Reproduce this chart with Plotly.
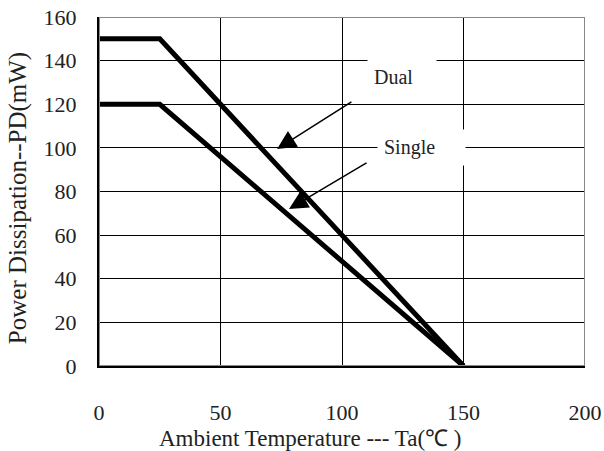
import plotly.graph_objects as go

# Data
temp_dual = [0, 25, 150]
pd_dual = [150, 150, 0]
temp_single = [0, 25, 150]
pd_single = [120, 120, 0]
x_ticks = [0, 50, 100, 150, 200]
y_ticks = [0, 20, 40, 60, 80, 100, 120, 140, 160]

FONT = "Liberation Serif"

fig = go.Figure()
fig.add_trace(go.Scatter(x=temp_dual, y=pd_dual, mode="lines",
                         line=dict(color="black", width=5), name="Dual",
                         showlegend=False))
fig.add_trace(go.Scatter(x=temp_single, y=pd_single, mode="lines",
                         line=dict(color="black", width=5), name="Single",
                         showlegend=False))

# gray frame top/right
fig.add_shape(type="rect", xref="x", yref="y", x0=0, x1=200, y0=0, y1=160,
              line=dict(color="#888888", width=2), layer="above")

# Arrows
fig.add_annotation(x=73.3, y=99.5, ax=104.5, ay=121.5, axref="x", ayref="y",
                   xref="x", yref="y", text="", showarrow=True,
                   arrowhead=2, arrowsize=2.5, arrowwidth=1.5, arrowcolor="black")
fig.add_annotation(x=78.2, y=72, ax=110.7, ay=93.5, axref="x", ayref="y",
                   xref="x", yref="y", text="", showarrow=True,
                   arrowhead=2, arrowsize=2.5, arrowwidth=1.5, arrowcolor="black")
# Labels
fig.add_annotation(x=124.7, y=132.5, xref="x", yref="y", text="Dual", showarrow=False,
                   width=56, align="left", bgcolor="white", borderpad=6,
                   font=dict(family=FONT, size=20, color="#222"))
fig.add_annotation(x=132.7, y=100.4, xref="x", yref="y", text="Single", showarrow=False,
                   width=75, align="left", bgcolor="white", borderpad=6,
                   font=dict(family=FONT, size=20, color="#222"))

# Axis titles
fig.add_annotation(x=0.434, y=0, xref="paper", yref="paper", yanchor="middle",
                   yshift=-72, showarrow=False,
                   text="Ambient Temperature --- Ta(℃ )",
                   font=dict(family=FONT, size=23, color="#222"))
fig.add_annotation(x=0, y=0.481, xref="paper", yref="paper", xanchor="center",
                   xshift=-81, showarrow=False, textangle=-90,
                   text="Power Dissipation--PD(mW)",
                   font=dict(family=FONT, size=25, color="#222"))

fig.update_layout(
    width=604, height=451,
    margin=dict(l=99, r=19, t=17, b=85, autoexpand=False),
    paper_bgcolor="white", plot_bgcolor="white",
    font=dict(family=FONT, size=22, color="#222"),
    xaxis=dict(range=[0, 200], tickvals=x_ticks, showgrid=True,
               gridcolor="black", gridwidth=1, zeroline=False,
               showline=True, linecolor="black", linewidth=2,
               ticks="", ticklabelstandoff=26, automargin=False),
    yaxis=dict(range=[0, 160], tickvals=y_ticks, showgrid=True,
               gridcolor="black", gridwidth=1, zeroline=False,
               showline=True, linecolor="black", linewidth=2,
               ticks="", ticklabelstandoff=16, automargin=False),
)

fig.write_html("out.html", config={"displayModeBar": False},
               post_script="document.body.style.margin='0';")
